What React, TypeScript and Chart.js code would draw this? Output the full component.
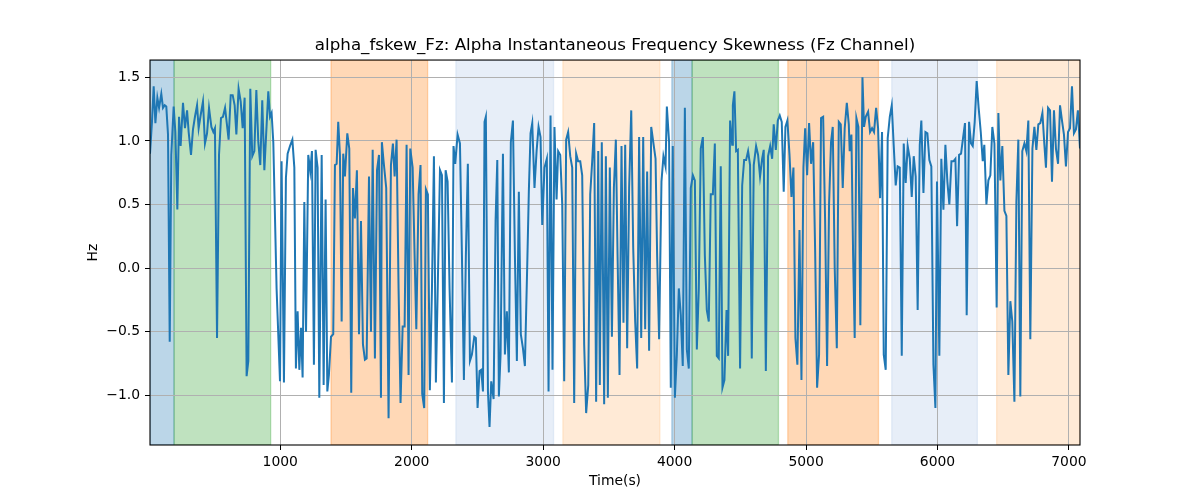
import React, { useEffect, useRef } from 'react';
import { Chart, registerables } from 'chart.js';

Chart.register(...registerables);

// Time stamps (s) and alpha instantaneous frequency skewness (Hz)
const timeSec = [
  9, 24, 37, 50, 65, 78, 95, 108, 121, 133, 146, 159, 171, 189, 202, 217, 230, 242, 260, 275,
  291, 303, 321, 336, 351, 367, 379, 394, 412, 427, 443, 458, 476, 491, 503, 519, 534, 549, 564, 580,
  592, 607, 623, 638, 653, 666, 683, 699, 714, 729, 744, 757, 772, 787, 803, 818, 833, 848, 863, 879,
  909, 922, 934, 947, 972, 998, 1010, 1028, 1043, 1056, 1074, 1092, 1107, 1119, 1132, 1145, 1158, 1170, 1183, 1196,
  1213, 1228, 1241, 1256, 1269, 1284, 1297, 1315, 1330, 1345, 1358, 1370, 1386, 1403, 1416, 1429, 1441, 1454, 1467, 1479,
  1492, 1510, 1525, 1540, 1553, 1568, 1583, 1599, 1614, 1629, 1644, 1657, 1675, 1690, 1703, 1720, 1736, 1751, 1766,
  1773, 1786, 1806, 1824, 1842, 1857, 1870, 1885, 1900, 1915, 1931, 1946, 1961, 1976, 1989, 2007, 2022, 2035, 2052, 2067,
  2080, 2095, 2108, 2123, 2138, 2154, 2169, 2184, 2199, 2215, 2230, 2245, 2258, 2273, 2288, 2306, 2318, 2331, 2349, 2367,
  2382, 2397, 2412, 2427, 2443, 2458, 2476, 2488, 2501, 2516, 2529, 2542, 2554, 2564, 2580, 2592, 2605, 2623, 2638, 2651,
  2663, 2676, 2694, 2709, 2724, 2739, 2754, 2770, 2785, 2800, 2815, 2830, 2846, 2861, 2879, 2891, 2904, 2917, 2934, 2950,
  2965, 2980, 2993, 3010, 3028, 3041, 3056, 3071, 3086, 3102, 3114, 3130, 3145, 3160, 3175, 3190, 3206, 3221, 3236, 3251,
  3266, 3282, 3297, 3312, 3327, 3343, 3358, 3373, 3388, 3403, 3419, 3431, 3446, 3464, 3477, 3492, 3507, 3523, 3538,
  3553, 3566, 3581, 3596, 3611, 3624, 3639, 3654, 3670, 3685, 3700, 3715, 3730, 3746, 3761, 3776, 3791, 3806, 3822, 3839,
  3855, 3867, 3882, 3900, 3915, 3931, 3941, 3958, 3971, 3986, 4002, 4017, 4032, 4047, 4062, 4078, 4093, 4108, 4123, 4139,
  4154, 4169, 4184, 4199, 4215, 4230, 4245, 4260, 4275, 4291, 4306, 4321, 4336, 4351, 4364, 4379, 4395, 4407, 4422, 4438,
  4443, 4455, 4468, 4481, 4498, 4514, 4529, 4544, 4559, 4574, 4587, 4602, 4620, 4635, 4650, 4666, 4678, 4694, 4711, 4727,
  4742, 4754, 4770, 4785, 4800, 4815, 4830, 4843, 4858, 4874, 4889, 4904, 4919, 4934, 4950, 4965, 4980, 4993, 5008, 5023,
  5038, 5054, 5069, 5084, 5099, 5114, 5130, 5145, 5160, 5175, 5190, 5203, 5218, 5234, 5249, 5264, 5279, 5294, 5310, 5325,
  5332, 5345, 5358, 5370, 5383, 5398, 5413, 5429, 5441, 5454, 5472, 5487, 5502, 5517, 5533, 5548, 5563, 5578, 5591, 5606,
  5621, 5637, 5652, 5667, 5682, 5697, 5713, 5728, 5743, 5758, 5773, 5789, 5804, 5819, 5834, 5849, 5865, 5877, 5893, 5908,
  5923, 5938, 5953, 5969, 5984, 5996, 6014, 6029, 6045, 6060, 6075, 6090, 6106, 6121, 6136, 6149, 6164, 6179, 6194, 6209,
  6222, 6240, 6255, 6268, 6283, 6298, 6313, 6329, 6344, 6356, 6372, 6387, 6402, 6417, 6433, 6450, 6463, 6478, 6493, 6509,
  6524, 6539, 6554, 6569, 6585, 6600, 6615, 6630, 6645, 6661, 6676, 6691, 6706, 6722, 6737, 6752, 6767, 6782, 6798, 6813,
  6825, 6841, 6856, 6871, 6886, 6901, 6917, 6932, 6947, 6962, 6977, 6993, 7008, 7023, 7038, 7053, 7068, 7084,
];

const skewHz = [
  0.90, 1.15, 1.43, 1.14, 1.34, 1.26, 1.37, 1.26, 1.28, 1.27, 1.05, -0.58, 0.89, 1.27, 1.07, 0.46, 1.19, 0.96, 1.30, 1.10,
  1.24, 1.07, 0.89, 1.09, 1.19, 1.28, 1.10, 1.20, 1.31, 0.98, 1.06, 1.26, 1.11, 1.07, 1.10, -0.55, 0.89, 1.18, 1.19, 1.26,
  1.15, 1.01, 1.36, 1.36, 1.28, 1.05, 1.41, 1.31, 1.10, 1.34, -0.85, -0.73, 1.41, 0.88, 0.92, 1.40, 0.99, 0.81, 1.32, 0.77,
  1.39, 1.19, 1.22, 0.99, -0.16, -0.89, 0.84, -0.90, 0.71, 0.90, 0.96, 1.01, 0.79, -0.79, -0.34, -0.80, -0.47, -0.86, 0.52, -0.50,
  0.89, 0.76, 0.92, -0.76, 0.93, 0.79, -1.02, 0.89, -0.92, 0.54, -0.97, -0.84, -0.54, -0.52, 0.81, 0.82, 1.15, 0.89, -0.42, 0.90,
  0.72, 1.06, 0.94, -0.98, 0.63, 0.39, 0.77, -0.52, 0.37, -0.60, -0.72, -0.71, 0.72, -0.50, 0.93, -0.71, 0.77, 0.89, -1.02,
  0.99, 0.84, 0.63, -1.18, 0.81, 0.98, 0.72, 1.01, -0.16, -1.06, -0.46, -0.46, 0.97, -0.84, 0.94, 0.79, 0.10, -0.48, 0.58, 0.81,
  -0.99, -1.10, 0.62, 0.58, -0.96, -0.16, 0.88, -0.90, -0.10, 0.77, 0.73, -1.06, 0.77, 0.68, -0.16, -0.90, 0.96, 0.82, 1.05, 0.98,
  0.10, -0.88, 0.10, 0.82, -0.73, -0.68, -0.54, -0.55, -1.10, -0.81, -0.80, -0.97, 1.15, 1.19, -0.97, -1.25, -0.89, -1.03, 0.37, 0.85,
  -1.01, -0.68, 0.90, -0.68, -0.34, -0.82, 0.99, 1.16, 0.10, -0.73, 0.60, -0.52, -0.63, -0.77, 0.03, 0.60, 1.06, 1.14, 0.63, 0.92,
  1.11, 1.03, 0.34, 0.79, 0.86, -0.97, 1.20, -0.80, 1.11, 0.54, 0.92, 0.89, 0.50, -0.89, 1.01, 1.07, 0.88, 0.79, -1.06, 0.90,
  0.84, 0.84, 0.73, -0.60, -1.14, -0.92, 0.58, 0.84, 1.14, -1.05, 0.92, -0.92, 0.99, -1.07, 0.88, -1.02, 0.79, -0.54, 0.63,
  1.01, 0.10, -0.84, 0.96, -0.43, 0.97, -0.63, 0.63, 1.24, 0.16, -0.42, -0.79, 1.03, -0.55, 1.03, -0.48, 0.76, -0.65, 1.11, 0.98,
  0.86, 0.10, -0.56, 0.68, 0.88, 0.80, 1.27, 0.99, -0.94, 0.96, -1.02, -0.68, -0.16, -0.37, -0.77, 1.26, -0.64, -0.79, 0.63, 0.73,
  0.69, -0.64, -0.16, 0.94, 1.03, 0.10, -0.33, -0.42, 0.58, 0.58, 0.98, -0.69, -0.71, 0.80, -0.94, -0.88, -0.33, -0.69, 1.16, 0.97,
  1.28, 1.39, 0.92, 0.93, -0.79, 0.65, 0.85, 0.85, 0.92, 0.81, -0.71, 0.81, 0.96, 0.89, 0.72, 0.86, 0.93, -0.81, 0.88, 0.96,
  0.86, 1.13, 0.93, 1.16, 1.20, 1.15, 0.60, 1.11, 1.16, 0.89, 0.56, 0.79, -0.55, -0.76, 0.30, -0.88, 0.79, 1.10, 0.73, 1.14,
  0.82, 0.99, 0.14, -0.94, -0.68, 1.18, 1.19, 0.37, -0.77, 0.50, 0.99, 1.11, 0.00, -0.63, 1.15, 1.13, 0.63, 1.10, 1.30, 1.13,
  0.92, 1.05, 0.10, -0.55, 1.18, 1.11, -0.45, 1.50, 1.11, 1.19, 1.23, 1.07, 1.10, 1.07, 1.26, 1.10, 0.55, 1.07, -0.68, -0.80,
  1.02, 1.19, 1.28, 0.96, 0.65, 0.80, 0.79, -0.69, 0.98, 0.67, 0.96, 0.86, 0.56, 0.88, 0.72, -0.33, 0.97, 1.16, 0.59, 1.07,
  1.06, 0.85, 0.80, -0.76, -1.10, 0.68, -0.69, 0.86, 0.46, 0.97, 0.68, 0.50, 0.84, 0.84, 0.86, 0.33, 0.89, 0.90, 1.02, 1.14,
  -0.37, 1.15, 0.98, 0.96, 1.15, 1.47, 1.26, 1.07, 0.84, 0.97, 0.50, 0.69, 0.73, 1.11, 0.98, -0.31, 1.22, 0.69, 0.96, 0.45,
  0.41, -0.84, -0.26, -0.42, -1.05, 0.52, 1.01, -1.01, 0.92, 0.98, 0.92, 1.16, -0.56, 0.94, 1.11, 0.93, 1.13, 1.14, 1.22, 0.97,
  0.79, 1.26, 1.24, 0.68, 1.24, 0.94, 0.82, 1.28, 1.16, 1.05, 0.80, 1.07, 1.10, 1.43, 1.06, 1.09, 1.24, 0.94,
];

// Shaded segments (time in s)
const spanStart = [9, 192, 1386, 2336, 3150, 3979, 4133, 4861, 5652, 6450];
const spanEnd = [192, 927, 2121, 3079, 3888, 4133, 4790, 5551, 6303, 7084];
const spanColor = [
  'rgba(31,119,180,0.3)',
  'rgba(44,160,44,0.3)',
  'rgba(255,127,14,0.3)',
  'rgba(174,199,232,0.3)',
  'rgba(255,187,120,0.3)',
  'rgba(31,119,180,0.3)',
  'rgba(44,160,44,0.3)',
  'rgba(255,127,14,0.3)',
  'rgba(174,199,232,0.3)',
  'rgba(255,187,120,0.3)',
];

const xTickValues = [1000, 2000, 3000, 4000, 5000, 6000, 7000];
const yTickValues = [-1.0, -0.5, 0.0, 0.5, 1.0, 1.5];
const xLimits = [9, 7084];
const yLimits = [-1.391, 1.636];

const titleText = 'alpha_fskew_Fz: Alpha Instantaneous Frequency Skewness (Fz Channel)';
const xLabel = 'Time(s)';
const yLabel = 'Hz';

const FONT = 'DejaVu Sans';

export default function App() {
  const canvasRef = useRef<HTMLCanvasElement>(null);

  useEffect(() => {
    if (!canvasRef.current) return;

    const spansPlugin = {
      id: 'spans',
      beforeDraw(chart: any) {
        const { ctx, chartArea, scales } = chart;
        const xs = scales.x;
        ctx.save();
        ctx.beginPath();
        ctx.rect(chartArea.left, chartArea.top, chartArea.right - chartArea.left, chartArea.bottom - chartArea.top);
        ctx.clip();
        for (let i = 0; i < spanStart.length; i++) {
          const x0 = xs.getPixelForValue(spanStart[i]);
          const x1 = xs.getPixelForValue(spanEnd[i]);
          ctx.fillStyle = spanColor[i];
          ctx.fillRect(x0, chartArea.top, x1 - x0, chartArea.bottom - chartArea.top);
          ctx.strokeStyle = spanColor[i];
          ctx.lineWidth = 1.3;
          ctx.strokeRect(x0, chartArea.top, x1 - x0, chartArea.bottom - chartArea.top);
        }
        ctx.restore();
      },
    };

    const framePlugin = {
      id: 'frame',
      afterDatasetsDraw(chart: any) {
        const { ctx, chartArea } = chart;
        ctx.save();
        ctx.strokeStyle = '#000';
        ctx.lineWidth = 1.1;
        ctx.strokeRect(chartArea.left, chartArea.top, chartArea.right - chartArea.left, chartArea.bottom - chartArea.top);
        ctx.restore();
      },
    };

    const points = timeSec.map((t, i) => ({ x: t, y: skewHz[i] }));

    const chart = new Chart(canvasRef.current, {
      type: 'line',
      data: {
        datasets: [
          {
            data: points,
            borderColor: '#1f77b4',
            borderWidth: 2,
            pointRadius: 0,
            tension: 0,
            fill: false,
          },
        ],
      },
      options: {
        animation: false,
        responsive: false,
        devicePixelRatio: 1,
        layout: { padding: { left: 0, right: 120, top: 0, bottom: 0 } },
        plugins: {
          legend: { display: false },
          tooltip: { enabled: false },
          title: {
            display: true,
            text: titleText,
            fullSize: false,
            color: '#000',
            font: { family: FONT, size: 16.7, weight: 'normal', lineHeight: 1.2 },
            padding: { top: 36, bottom: 4 },
          },
        },
        scales: {
          x: {
            type: 'linear',
            min: xLimits[0],
            max: xLimits[1],
            afterBuildTicks: (scale: any) => {
              scale.ticks = xTickValues.map((v) => ({ value: v }));
            },
            afterFit: (scale: any) => {
              scale.height = 55;
            },
            ticks: {
              color: '#000',
              font: { family: FONT, size: 13.9 },
              padding: 4,
              maxRotation: 0,
              autoSkip: false,
              callback: (v: any) => String(v),
            },
            grid: {
              color: '#b0b0b0',
              lineWidth: 1,
              drawTicks: true,
              tickLength: 5,
              tickColor: '#000',
              tickWidth: 1,
            },
            border: { display: false },
            title: {
              display: true,
              text: xLabel,
              color: '#000',
              font: { family: FONT, size: 13.9, lineHeight: 1.2 },
              padding: { top: 0, bottom: 10.7 },
            },
          },
          y: {
            type: 'linear',
            min: yLimits[0],
            max: yLimits[1],
            afterBuildTicks: (scale: any) => {
              scale.ticks = yTickValues.map((v) => ({ value: v }));
            },
            afterFit: (scale: any) => {
              scale.width = 150;
            },
            ticks: {
              color: '#000',
              font: { family: FONT, size: 13.9 },
              padding: 5,
              autoSkip: false,
              callback: (v: any) => {
                const n = Number(v);
                return (n < 0 ? '\u2212' : '') + Math.abs(n).toFixed(1);
              },
            },
            grid: {
              color: '#b0b0b0',
              lineWidth: 1,
              drawTicks: true,
              tickLength: 5,
              tickColor: '#000',
              tickWidth: 1,
            },
            border: { display: false },
            title: {
              display: true,
              text: yLabel,
              color: '#000',
              font: { family: FONT, size: 13.9, lineHeight: 1.2 },
              padding: { top: 84.7, bottom: 0 },
            },
          },
        },
      },
      plugins: [spansPlugin, framePlugin],
    } as any);

    return () => {
      chart.destroy();
    };
  }, []);

  return (
    <div style={{ position: 'fixed', left: 0, top: 0, width: 1200, height: 500, background: '#fff' }}>
      <canvas ref={canvasRef} width={1200} height={500} style={{ display: 'block', width: 1200, height: 500 }} />
    </div>
  );
}
